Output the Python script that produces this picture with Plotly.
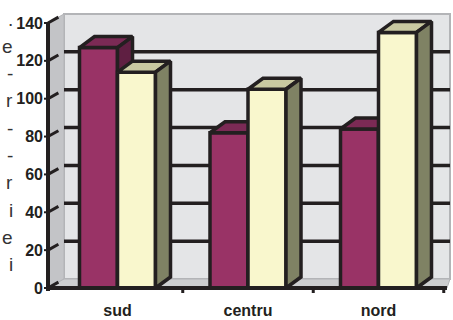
import plotly.graph_objects as go

# ---------------- data ----------------
categories = ["sud", "centru", "nord"]
series_maroon = [127, 82, 84]
series_cream = [114, 105, 135]
y_tick_values = [0, 20, 40, 60, 80, 100, 120, 140]
y_tick_labels = ["0", "20", "40", "60", "80", "100", "120", "140"]
grid_values = [20, 40, 60, 80, 100, 120]
side_text = [".", "e", "-", "r", "-", "-", "r", "i", "e", "i"]

# ---------------- layout geometry ----------------
W, H = 453, 320
ML, MR, MT, MB = 44, 0, 8, 25
PX0, PXS = 117.5, 130.5        # pixel of category 0 centre, pixels per category
PY0, PYS = 288.0, 1.893        # pixel of value 0 (front plane), pixels per unit


def ux(px):
    return (px - PX0) / PXS


def uy(py):
    return (PY0 - py) / PYS


def dux(dpx):
    return dpx / PXS


def duy(dpx):
    return dpx / PYS


x_range = [ux(ML), ux(W - MR)]
y_range = [uy(H - MB), uy(MT)]

AX_X = ux(48)
WALL_R = ux(450)
FLOOR_FR = ux(447)
DXW, DYW = dux(16), duy(9)
DXB, DYB = dux(15), duy(11)
BW = dux(38)
YMAX = y_tick_values[-1]

INK = "#231f20"
LW = 3.5

shapes = []


def path(points):
    return "M " + " L ".join(f"{x},{y}" for x, y in points) + " Z"


# back wall
shapes.append(dict(type="path", xref="x", yref="y", layer="below",
                   path=path([(AX_X + DXW, DYW), (WALL_R, DYW), (WALL_R, YMAX + DYW), (AX_X + DXW, YMAX + DYW)]),
                   fillcolor="#e4e5e7", line=dict(color="#b3b4b7", width=2)))
# left wall
shapes.append(dict(type="path", xref="x", yref="y", layer="below",
                   path=path([(AX_X, 0), (AX_X + DXW, DYW), (AX_X + DXW, YMAX + DYW), (AX_X, YMAX)]),
                   fillcolor="#c3c4c7", line=dict(color="#b3b4b7", width=1)))
# floor
shapes.append(dict(type="path", xref="x", yref="y", layer="below",
                   path=path([(AX_X, 0), (FLOOR_FR, 0), (WALL_R, DYW), (AX_X + DXW, DYW)]),
                   fillcolor="#cdced0", line=dict(color="#b3b4b7", width=1)))
# grid lines on the back wall
for t in grid_values:
    shapes.append(dict(type="line", xref="x", yref="y", layer="below",
                       x0=AX_X + DXW, x1=WALL_R, y0=t + DYW, y1=t + DYW,
                       line=dict(color=INK, width=LW)))
# diagonal + short outer ticks on the value axis
for t in y_tick_values:
    shapes.append(dict(type="line", xref="x", yref="y", layer="above",
                       x0=AX_X, x1=AX_X + 0.65 * DXW, y0=t, y1=t + 0.65 * DYW,
                       line=dict(color=INK, width=3)))
    shapes.append(dict(type="line", xref="x", yref="y", layer="above",
                       x0=AX_X - dux(4), x1=AX_X, y0=t, y1=t,
                       line=dict(color=INK, width=2)))
# axis lines
shapes.append(dict(type="line", xref="x", yref="y", layer="above",
                   x0=AX_X, x1=AX_X, y0=-duy(3), y1=YMAX + duy(1),
                   line=dict(color=INK, width=4)))
shapes.append(dict(type="line", xref="x", yref="y", layer="above",
                   x0=AX_X, x1=FLOOR_FR, y0=0, y1=0,
                   line=dict(color=INK, width=4)))
# category boundary ticks
for i in range(len(categories)):
    b = i + 0.5
    shapes.append(dict(type="line", xref="x", yref="y", layer="above",
                       x0=b, x1=b, y0=0, y1=-duy(5),
                       line=dict(color=INK, width=3)))

# ---------------- bars (3-D faces built from the data) ----------------
fig = go.Figure()

series = [
    (series_maroon, "#993366", "#7b2a55", "#5f1f42"),
    (series_cream, "#f9f7cd", "#c9c9a1", "#7f8264"),
]

for s, (vals, c_front, c_top, c_side) in enumerate(series):
    fx, fy, tx, ty, sx, sy = [], [], [], [], [], []
    for i, v in enumerate(vals):
        L = i - BW + s * BW
        R = L + BW
        fx += [L, R, R, L, L, None]
        fy += [0, 0, v, v, 0, None]
        tx += [L, R, R + DXB, L + DXB, L, None]
        ty += [v, v, v + DYB, v + DYB, v, None]
        sx += [R, R + DXB, R + DXB, R, R, None]
        sy += [0, DYB, v + DYB, v, 0, None]
    for xs, ys, col in ((fx, fy, c_front), (tx, ty, c_top), (sx, sy, c_side)):
        fig.add_trace(go.Scatter(x=xs, y=ys, mode="lines", fill="toself",
                                 fillcolor=col, line=dict(color=INK, width=LW),
                                 hoverinfo="skip", showlegend=False))

# ---------------- clipped document text on the left ----------------
annotations = []
for k, ch in enumerate(side_text):
    yc = 19 + 27.3 * k
    annotations.append(dict(xref="paper", yref="paper",
                            x=(14 - ML) / (W - ML - MR), y=1 - (yc - MT) / (H - MT - MB),
                            xanchor="right", yanchor="middle", showarrow=False, borderpad=0,
                            text=ch, font=dict(family="Liberation Sans", size=19, color="#333333")))

tick_font = dict(family="Liberation Sans", size=16, color=INK, weight="bold")

fig.update_layout(
    width=W, height=H,
    margin=dict(l=ML, r=MR, t=MT, b=MB, pad=0),
    paper_bgcolor="white", plot_bgcolor="white",
    shapes=shapes, annotations=annotations,
    xaxis=dict(range=x_range, showgrid=False, zeroline=False, showline=False,
               tickmode="array", tickvals=list(range(len(categories))), ticktext=categories,
               ticks="", tickfont=tick_font, ticklabelstandoff=4, fixedrange=True),
    yaxis=dict(range=y_range, showgrid=False, zeroline=False, showline=False,
               tickmode="array", tickvals=y_tick_values, ticktext=y_tick_labels,
               ticks="", tickfont=tick_font, fixedrange=True),
    showlegend=False,
)

fig.write_html("out.html")
